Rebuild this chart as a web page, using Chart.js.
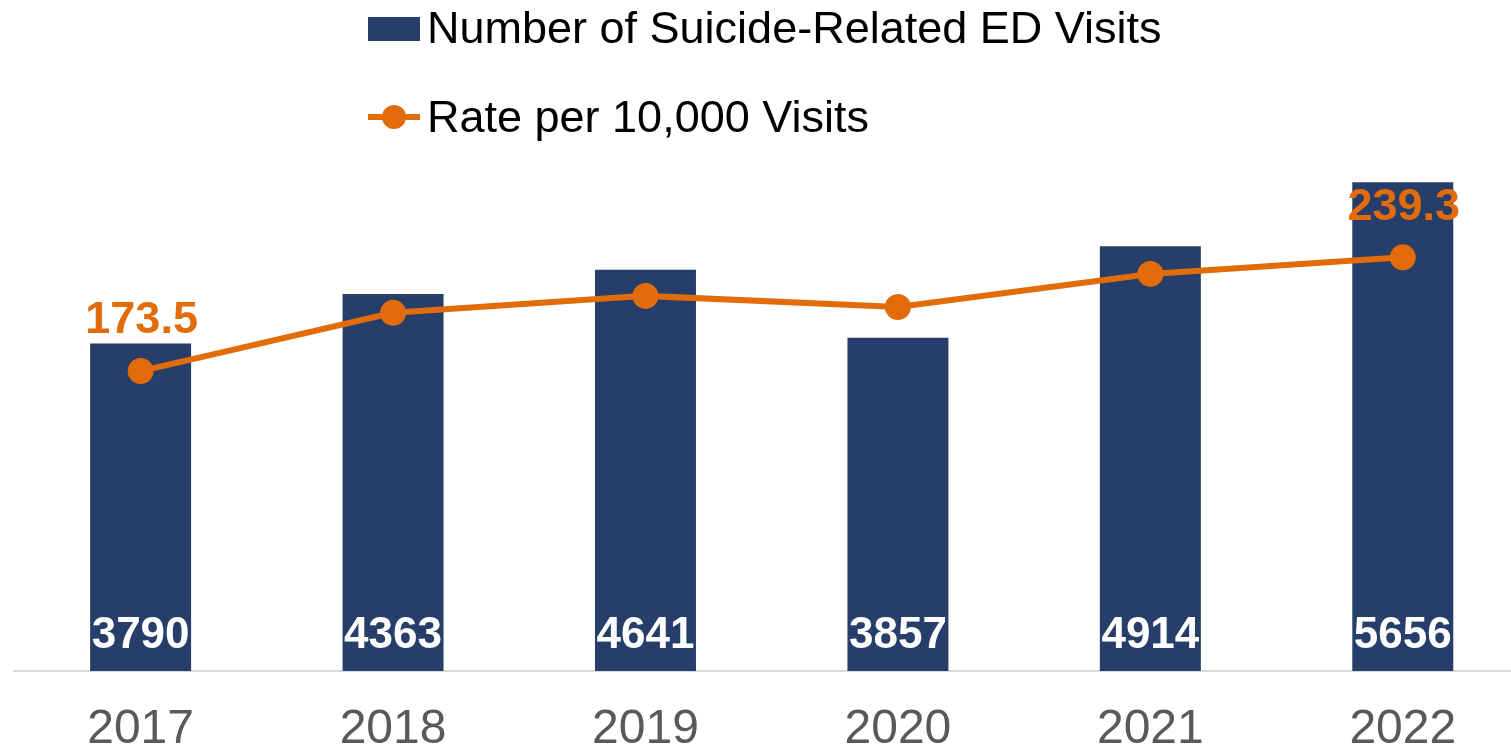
<!DOCTYPE html>
<html>
<head>
<meta charset="utf-8">
<script src="https://cdn.jsdelivr.net/npm/chart.js@4"></script>
<style>
html,body{margin:0;padding:0;background:#fff;overflow:hidden;}
#c{display:block;}
</style>
</head>
<body>
<canvas id="c" width="1542" height="749" style="width:1542px;height:749px;"></canvas>
<script>
const years = ['2017','2018','2019','2020','2021','2022'];
const visitCounts = [3790, 4363, 4641, 3857, 4914, 5656];
const ratePer10k = [173.5, 207.2, 217.0, 210.6, 229.7, 239.3];
const rateLabelIndexes = [0, 5];
const seriesNames = ['Number of Suicide-Related ED Visits', 'Rate per 10,000 Visits'];

const NAVY = '#263E69';
const ORANGE = '#E36C0A';
const FONT = '"Liberation Sans", Arial, sans-serif';

const labelPlugin = {
  id: 'valueLabels',
  afterDatasetsDraw(chart) {
    const ctx = chart.ctx;
    ctx.save();
    const barMeta = chart.getDatasetMeta(0);
    ctx.font = 'bold 44px ' + FONT;
    ctx.fillStyle = '#FFFFFF';
    ctx.textAlign = 'center';
    ctx.textBaseline = 'middle';
    barMeta.data.forEach((bar, i) => {
      ctx.fillText(String(visitCounts[i]), bar.x, bar.base - 35);
    });
    const lineMeta = chart.getDatasetMeta(1);
    ctx.fillStyle = ORANGE;
    ctx.font = 'bold 45px ' + FONT;
    rateLabelIndexes.forEach(i => {
      const p = lineMeta.data[i];
      ctx.fillText(ratePer10k[i].toFixed(1), p.x + 1, p.y - 50);
    });
    ctx.restore();
  }
};

const legendPlugin = {
  id: 'customLegend',
  afterDraw(chart) {
    const ctx = chart.ctx;
    ctx.save();
    ctx.fillStyle = NAVY;
    ctx.fillRect(368, 17, 52, 24);
    ctx.strokeStyle = ORANGE;
    ctx.lineWidth = 6;
    ctx.beginPath();
    ctx.moveTo(368, 117);
    ctx.lineTo(420, 117);
    ctx.stroke();
    ctx.fillStyle = ORANGE;
    ctx.beginPath();
    ctx.arc(394, 117, 12, 0, Math.PI * 2);
    ctx.fill();
    ctx.fillStyle = '#000000';
    ctx.font = '45px ' + FONT;
    ctx.textAlign = 'left';
    ctx.textBaseline = 'middle';
    ctx.fillText(seriesNames[0], 427, 31);
    ctx.fillText(seriesNames[1], 427, 120);
    ctx.restore();
  }
};

new Chart(document.getElementById('c'), {
  data: {
    labels: years,
    datasets: [
      {
        type: 'bar',
        label: seriesNames[0],
        data: visitCounts,
        backgroundColor: NAVY,
        yAxisID: 'y',
        barPercentage: 0.4,
        categoryPercentage: 1.0,
        order: 1
      },
      {
        type: 'line',
        label: seriesNames[1],
        data: ratePer10k,
        borderColor: ORANGE,
        backgroundColor: ORANGE,
        borderWidth: 6,
        pointRadius: 13,
        pointHoverRadius: 13,
        pointBackgroundColor: ORANGE,
        pointBorderWidth: 0,
        tension: 0,
        yAxisID: 'y1',
        order: 0
      }
    ]
  },
  options: {
    responsive: false,
    animation: false,
    devicePixelRatio: 1,
    layout: { padding: { top: 152.4, left: 14.4, right: 0.3, bottom: 0 } },
    plugins: { legend: { display: false }, tooltip: { enabled: false } },
    scales: {
      x: {
        grid: { display: false, drawTicks: false },
        border: { display: true, color: '#D9D9D9', width: 2 },
        ticks: { color: '#595959', font: { family: FONT, size: 48, lineHeight: 1 }, padding: 35 },
        afterFit(scale) { scale.height = 78; scale.paddingLeft = 0; scale.paddingRight = 0; }
      },
      y: { display: false, min: 0, max: 6000 },
      y1: { display: false, min: 0, max: 300 }
    }
  },
  plugins: [labelPlugin, legendPlugin]
});
</script>
</body>
</html>
